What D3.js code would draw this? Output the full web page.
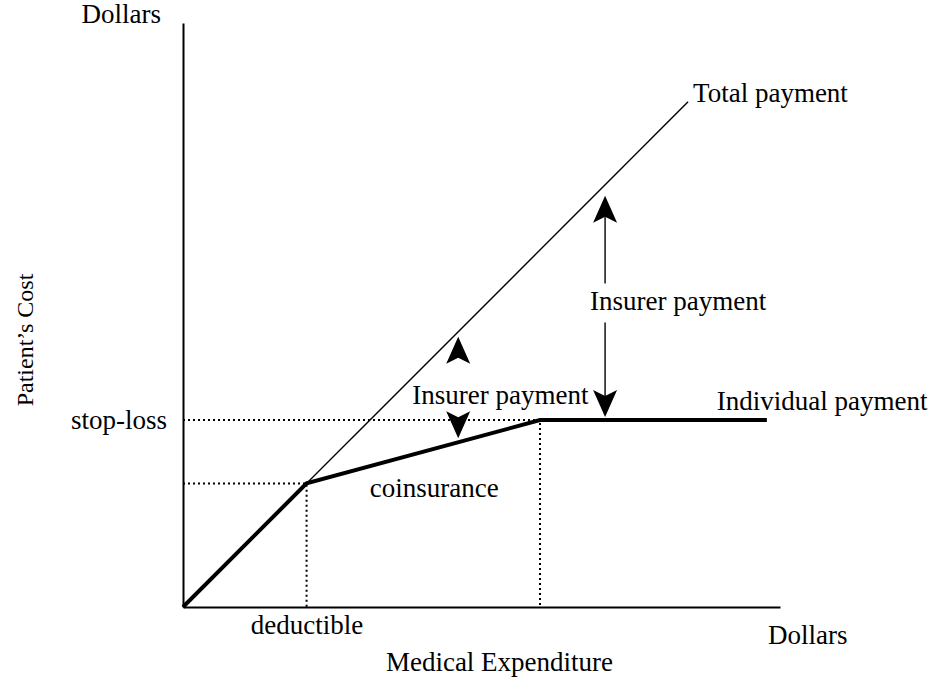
<!DOCTYPE html>
<html>
<head>
<meta charset="utf-8">
<script src="https://cdn.jsdelivr.net/npm/d3@7"></script>
<style>
  body { margin: 0; background: #fff; }
  text { font-family: "Liberation Serif", "Times New Roman", serif; font-size: 27px; fill: #000; }
</style>
</head>
<body>
<svg></svg>
<script>
const width = 936;
const height = 683;

// medical expenditure (x) and patient's cost (y), in dollars
const xMax = 1000;
const yMax = 978;
const totalPayment = [[0, 0], [846, 846]];
const individualPayment = [[0, 0], [207, 207], [598, 313], [978, 313]];
const xTickValues = [207];
const xTickLabels = ['deductible'];
const yTickValues = [313];
const yTickLabels = ['stop-loss'];
const guideCorners = [[207, 207], [598, 313]];
const insurerArrowSpend = [461, 707];

const x = d3.scaleLinear().domain([0, xMax]).range([183, 780]);
const y = d3.scaleLinear().domain([0, yMax]).range([607, 23]);

const totalAt = d3.scaleLinear()
    .domain(totalPayment.map(d => d[0]))
    .range(totalPayment.map(d => d[1]));
const individualAt = d3.scaleLinear()
    .domain(individualPayment.map(d => d[0]))
    .range(individualPayment.map(d => d[1]));

const svg = d3.select('svg')
    .attr('width', width)
    .attr('height', height);

// dotted guides for deductible and stop-loss
guideCorners.forEach(([gx, gy]) => {
    svg.append('path')
        .attr('d', `M${x(0)},${y(gy)}H${x(gx)}V${y(0)}`)
        .attr('fill', 'none')
        .attr('stroke', '#000')
        .attr('stroke-width', 2)
        .attr('stroke-dasharray', '2,3');
});

const xAxis = d3.axisBottom(x)
    .tickValues(xTickValues)
    .tickFormat((d, i) => xTickLabels[i])
    .tickSize(0)
    .tickSizeOuter(0)
    .tickPadding(8);

const yAxis = d3.axisLeft(y)
    .tickValues(yTickValues)
    .tickFormat((d, i) => yTickLabels[i])
    .tickSize(0)
    .tickSizeOuter(0)
    .tickPadding(16);

svg.append('g')
    .attr('transform', `translate(0, ${y(0)})`)
    .call(xAxis)
    .call(g => g.select('.domain').attr('stroke-width', 2));

svg.append('g')
    .attr('transform', `translate(${x(0)}, 0)`)
    .call(yAxis)
    .call(g => g.select('.domain').attr('stroke-width', 2));

const line = d3.line()
    .x(d => x(d[0]))
    .y(d => y(d[1]));

svg.append('path')
    .datum(totalPayment)
    .attr('d', line)
    .attr('fill', 'none')
    .attr('stroke', '#000')
    .attr('stroke-width', 1.4);

svg.append('path')
    .datum(individualPayment)
    .attr('d', line)
    .attr('fill', 'none')
    .attr('stroke', '#000')
    .attr('stroke-width', 4);

// arrowheads: dir -1 points up, 1 points down
function arrowHead(cx, tip, dir) {
    const b = tip - dir * 27;
    const n = tip - dir * 21;
    svg.append('path')
        .attr('d', `M${cx},${tip}L${cx + 12},${b}L${cx},${n}L${cx - 12},${b}Z`)
        .attr('fill', '#000');
}

// left pair: heads only, label between
{
    const s = insurerArrowSpend[0];
    const ax = x(s);
    const upTip = y(totalAt(s)) + 5;
    const downTip = y(individualAt(s)) - 4;
    arrowHead(ax, upTip, -1);
    arrowHead(ax, downTip, 1);
    svg.append('text')
        .attr('x', ax - 46)
        .attr('y', downTip - 34)
        .text('Insurer payment');
}

// right arrow with shaft broken by the label
{
    const s = insurerArrowSpend[1];
    const ax = x(s);
    const upTip = y(totalAt(s)) + 11;
    const downTip = y(individualAt(s)) - 3;
    const base = (upTip + downTip) / 2 + 4;
    arrowHead(ax, upTip, -1);
    arrowHead(ax, downTip, 1);
    svg.append('line')
        .attr('x1', ax).attr('x2', ax)
        .attr('y1', upTip + 21).attr('y2', base - 27)
        .attr('stroke', '#000').attr('stroke-width', 1.4);
    svg.append('line')
        .attr('x1', ax).attr('x2', ax)
        .attr('y1', base + 12).attr('y2', downTip - 21)
        .attr('stroke', '#000').attr('stroke-width', 1.4);
    svg.append('text')
        .attr('x', ax - 15)
        .attr('y', base)
        .text('Insurer payment');
}

const totalEnd = totalPayment[totalPayment.length - 1];
svg.append('text')
    .attr('x', x(totalEnd[0]) + 5)
    .attr('y', y(totalEnd[1]))
    .text('Total payment');

const indEnd = individualPayment[individualPayment.length - 1];
svg.append('text')
    .attr('x', x(indEnd[0]) - 50)
    .attr('y', y(indEnd[1]) - 10)
    .text('Individual payment');

const coA = individualPayment[1];
const coB = individualPayment[2];
svg.append('text')
    .attr('x', x((coA[0] + coB[0]) / 2) + 11)
    .attr('y', y((coA[1] + coB[1]) / 2) + 45)
    .style('text-anchor', 'middle')
    .text('coinsurance');

// axis titles
svg.append('text')
    .attr('x', x(0) - 22)
    .attr('y', y(yMax))
    .style('text-anchor', 'end')
    .text('Dollars');

svg.append('text')
    .attr('x', x(xMax) - 12)
    .attr('y', y(0) + 37)
    .text('Dollars');

svg.append('text')
    .attr('x', (x(0) + x(xMax)) / 2 + 18)
    .attr('y', y(0) + 64)
    .style('text-anchor', 'middle')
    .text('Medical Expenditure');

svg.append('text')
    .attr('transform', 'rotate(-90)')
    .attr('x', -340)
    .attr('y', 33)
    .style('text-anchor', 'middle')
    .style('font-size', '24px')
    .text('Patient\u2019s Cost');
</script>
</body>
</html>
